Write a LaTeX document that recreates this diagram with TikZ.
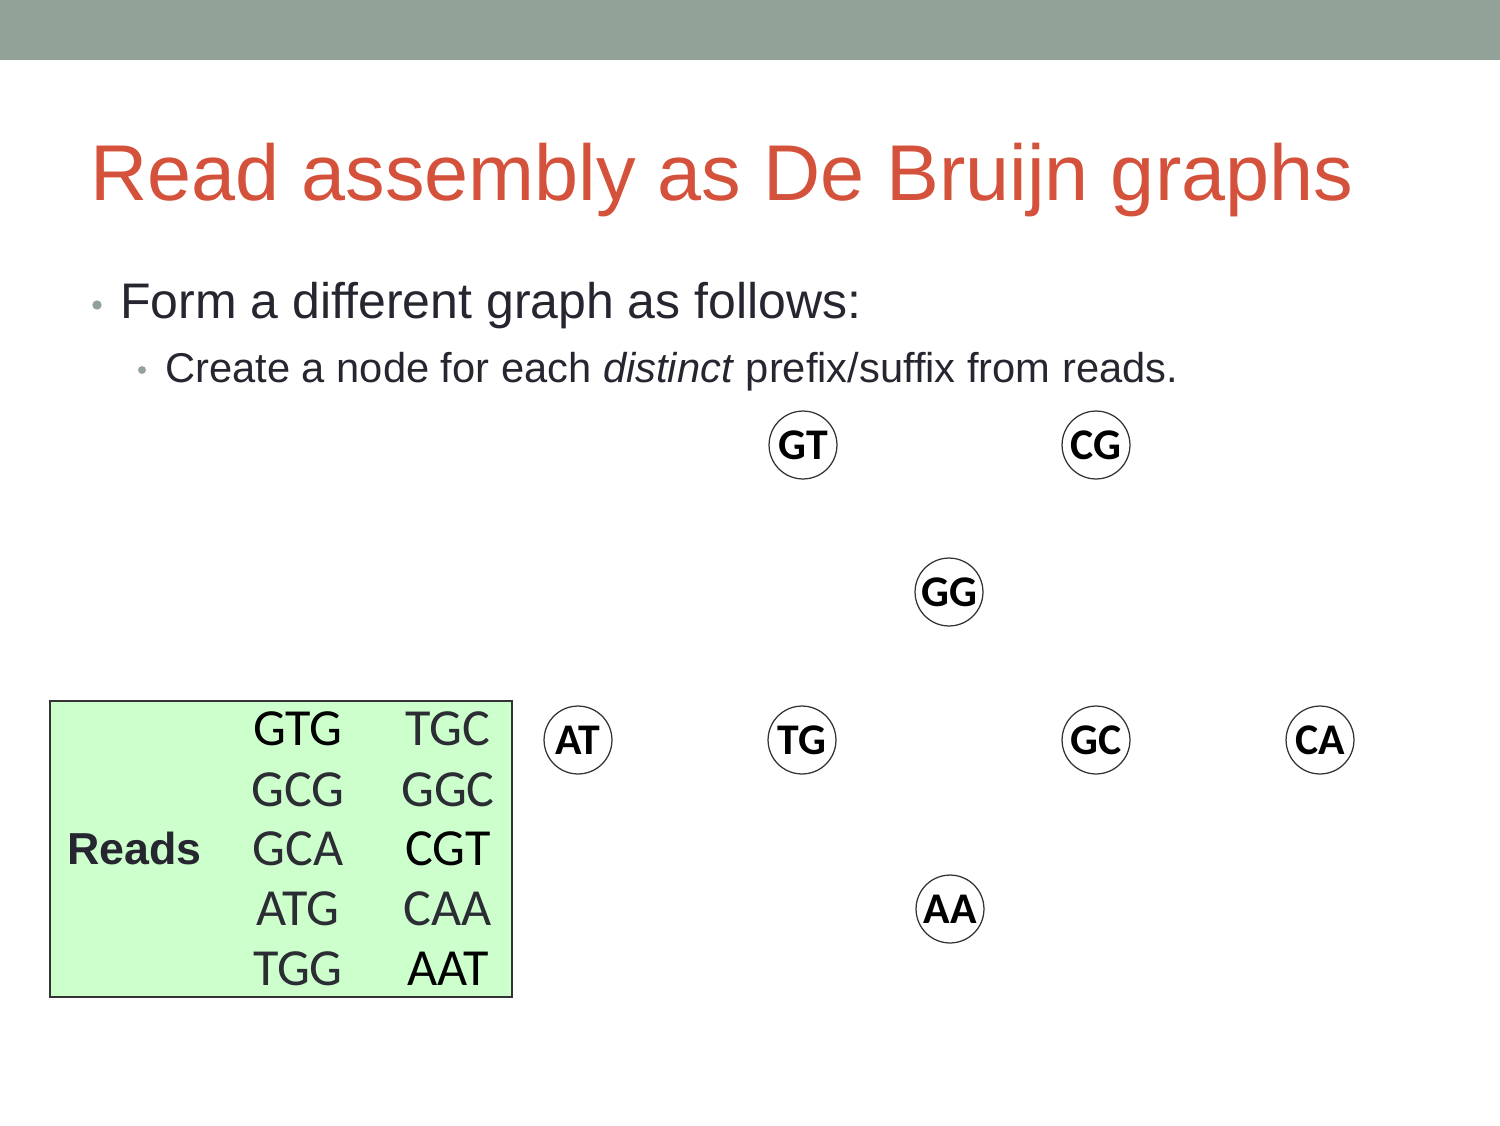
\documentclass[tikz,border=0pt]{standalone}
\usepackage{fontspec}
\setmainfont{Liberation Sans}
\newfontfamily\readsfont{Carlito}
\usepackage{tikz}
\usetikzlibrary{positioning}

\definecolor{barcolor}{HTML}{93A299}
\definecolor{titlecolor}{HTML}{D4523B}
\definecolor{textcolor}{HTML}{262630}
\definecolor{readgray}{HTML}{2C2C34}
\definecolor{boxfill}{HTML}{CCFFCC}

\begin{document}
\begin{tikzpicture}
[x=0.48pt, y=-0.48pt,
kmernode/.style={circle, draw=black!80, line width=0.6pt, inner sep=0pt, minimum size=32.6pt, font=\readsfont\fontsize{21}{21}\bfseries},
readtext/.style={anchor=base, font=\readsfont\fontsize{25}{25}\selectfont},
bulletdot/.style={circle, fill=barcolor, inner sep=0pt},
]
\useasboundingbox (0,0) rectangle (1500,1125);
\fill[barcolor] (0,0) rectangle (1500,60);

% title and bullets
\node[anchor=base west, text=titlecolor, font=\fontsize{38}{38}\selectfont] (title) at (83,200) {Read assembly as De Bruijn graphs};
\node[bulletdot, minimum size=4.5pt] (b1) at (97,305) {};
\node[anchor=base west, text=textcolor, font=\fontsize{24}{24}\selectfont] (line1) at (113,318) {Form a different graph as follows:};
\node[bulletdot, minimum size=3.8pt] (b2) at (142,370) {};
\node[anchor=base west, text=textcolor, font=\fontsize{20}{20}\selectfont] (line2) at (158,382) {Create a node for each \textit{distinct} prefix/suffix from reads.};

% reads box
\draw[fill=boxfill, draw=black!80, line width=0.7pt] (50,701) rectangle (512,997);
\node[anchor=base west, text=textcolor, font=\fontsize{21.5}{21.5}\bfseries] (reads) at (60,864) {Reads};
\node[readtext, text=black]    (r1) at (298,745) {GTG};
\node[readtext, text=readgray] (r2) at (298,806) {GCG};
\node[readtext, text=readgray] (r3) at (298,865) {GCA};
\node[readtext, text=readgray] (r4) at (298,925) {ATG};
\node[readtext, text=readgray] (r5) at (298,985) {TGG};
\node[readtext, text=readgray] (r6) at (448,745) {TGC};
\node[readtext, text=readgray] (r7) at (448,806) {GGC};
\node[readtext, text=black]    (r8) at (448,865) {CGT};
\node[readtext, text=readgray] (r9) at (448,925) {CAA};
\node[readtext, text=black]    (r10) at (448,985) {AAT};

% k-mer nodes
\node[kmernode] (gt) at (803,445) {GT};
\node[kmernode] (cg) at (1096,445) {CG};
\node[kmernode] (gg) at (949,592) {GG};
\node[kmernode] (at) at (578,740) {AT};
\node[kmernode] (tg) at (802,740) {TG};
\node[kmernode] (gc) at (1096,740) {GC};
\node[kmernode] (ca) at (1320,740) {CA};
\node[kmernode] (aa) at (950,909) {AA};
\end{tikzpicture}
\end{document}
